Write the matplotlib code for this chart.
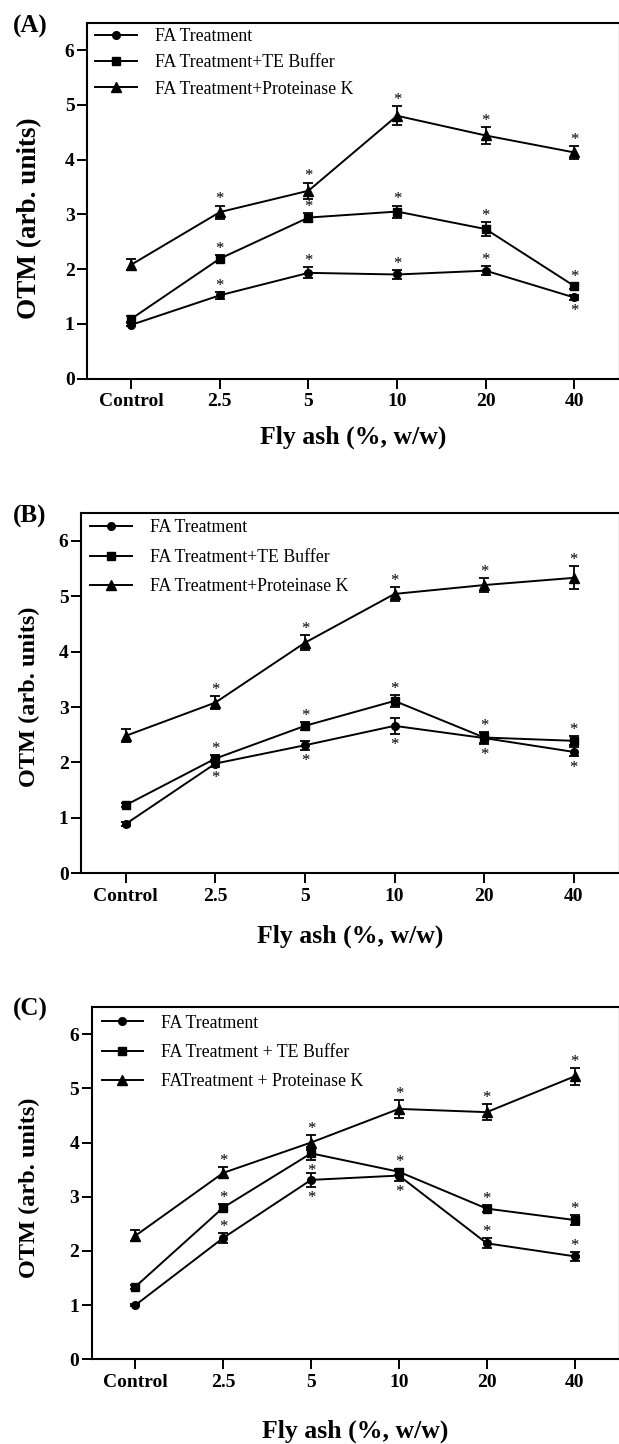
import matplotlib
matplotlib.use('Agg')
import matplotlib.pyplot as plt

plt.rcParams['font.family'] = ['Liberation Serif', 'DejaVu Serif']

# ---------------- data ----------------
categories = ['Control', '2.5', '5', '10', '20', '40']
labels_ab = ['FA Treatment', 'FA Treatment+TE Buffer', 'FA Treatment+Proteinase K']
labels_c = ['FA Treatment', 'FA Treatment + TE Buffer', 'FATreatment + Proteinase K']
panel_names = ['(A)', '(B)', '(C)']
y_ticks = [0, 1, 2, 3, 4, 5, 6]

# Panel A
a_fa = [0.98, 1.52, 1.93, 1.90, 1.97, 1.48]
a_fa_err = [0.03, 0.06, 0.10, 0.08, 0.08, 0.04]
a_te = [1.09, 2.19, 2.94, 3.05, 2.73, 1.69]
a_te_err = [0.05, 0.06, 0.09, 0.11, 0.12, 0.06]
a_pk = [2.08, 3.04, 3.43, 4.80, 4.44, 4.13]
a_pk_err = [0.10, 0.12, 0.15, 0.17, 0.15, 0.12]
a_fa_star = ['', 'a', 'a', 'a', 'a', 'b']
a_te_star = ['', 'a', 'a', 'a', 'a', 'a']
a_pk_star = ['', 'a', 'a', 'a', 'a', 'a']

# Panel B
b_fa = [0.89, 1.98, 2.31, 2.66, 2.44, 2.19]
b_fa_err = [0.03, 0.06, 0.08, 0.14, 0.10, 0.08]
b_te = [1.23, 2.07, 2.66, 3.11, 2.45, 2.39]
b_te_err = [0.03, 0.06, 0.07, 0.11, 0.10, 0.08]
b_pk = [2.48, 3.08, 4.16, 5.04, 5.20, 5.33]
b_pk_err = [0.12, 0.12, 0.14, 0.13, 0.12, 0.21]
b_fa_star = ['', 'b', 'b', 'b', 'b', 'b']
b_te_star = ['', 'a', 'a', 'a', 'a', 'a']
b_pk_star = ['', 'a', 'a', 'a', 'a', 'a']

# Panel C
c_fa = [1.00, 2.24, 3.31, 3.39, 2.14, 1.90]
c_fa_err = [0.02, 0.09, 0.13, 0.10, 0.09, 0.08]
c_te = [1.34, 2.80, 3.80, 3.46, 2.78, 2.57]
c_te_err = [0.04, 0.07, 0.12, 0.06, 0.06, 0.10]
c_pk = [2.28, 3.44, 4.00, 4.62, 4.56, 5.22]
c_pk_err = [0.10, 0.10, 0.13, 0.17, 0.15, 0.16]
c_fa_star = ['', 'a', 'b', 'b', 'a', 'a']
c_te_star = ['', 'a', 'b', 'a', 'a', 'a']
c_pk_star = ['', 'a', 'a', 'a', 'a', 'a']

panels = [
    dict(vals=[a_fa, a_te, a_pk], errs=[a_fa_err, a_te_err, a_pk_err],
         stars=[a_fa_star, a_te_star, a_pk_star], labels=labels_ab),
    dict(vals=[b_fa, b_te, b_pk], errs=[b_fa_err, b_te_err, b_pk_err],
         stars=[b_fa_star, b_te_star, b_pk_star], labels=labels_ab),
    dict(vals=[c_fa, c_te, c_pk], errs=[c_fa_err, c_te_err, c_pk_err],
         stars=[c_fa_star, c_te_star, c_pk_star], labels=labels_c),
]

# ---------------- layout (pixels in a 619x1444 canvas) ----------------
W, H = 619, 1444
boxes = [(87, 22.7, 378.5, 618.5), (81, 513, 873.3, 618.5), (91.5, 1007, 1359.3, 618.5)]
panel_label_pos = [(30, 26), (30, 516), (30, 1009)]
ylabel_x = [29.6, 29.6, 29.6]
ylabel_yfrac = [0.45, 0.49, 0.488]
ylabel_size = [19.5, 17.5, 17.5]
xlabel_y = [437, 936.7, 1431.7]
legend_spacing = [0.52, 0.7, 0.7]
legend_offset = [(8, 5.5), (9, 6.5), (10, 7.5)]

markers = ['o', 's', '^']
msizes = [5.5, 6.3, 6.5]

fig = plt.figure(figsize=(W / 100, H / 100), dpi=100)

for i, p in enumerate(panels):
    l, t, b, r = boxes[i]
    ax = fig.add_axes([l / W, 1 - b / H, (r - l) / W, (b - t) / H])
    x = list(range(len(categories)))
    handles = []
    for k in range(3):
        cont = ax.errorbar(x, p['vals'][k], yerr=p['errs'][k], color='black',
                           marker=markers[k], markersize=msizes[k], lw=1.4,
                           elinewidth=1.3, capsize=3.3, capthick=1.3, zorder=3)
        handles.append(cont[0])
        for j, s in enumerate(p['stars'][k]):
            if s == 'a':
                ax.annotate('*', (x[j], p['vals'][k][j] + p['errs'][k][j]),
                            xytext=(0, 1.5), textcoords='offset points',
                            ha='center', va='baseline', fontsize=12)
            elif s == 'b':
                ax.annotate('*', (x[j], p['vals'][k][j] - p['errs'][k][j]),
                            xytext=(0, -11.0), textcoords='offset points',
                            ha='center', va='baseline', fontsize=12)
    ax.set_xlim(-0.5, 5.5)
    ax.set_ylim(0, 6.5)
    ax.set_xticks(x)
    ax.set_xticklabels(categories)
    ax.set_yticks(y_ticks)
    for lab in ax.get_xticklabels() + ax.get_yticklabels():
        lab.set_fontweight('bold')
        lab.set_fontsize(14)
    ax.tick_params(axis='both', direction='out', length=7, width=1.4)
    ax.tick_params(axis='x', pad=3.5)
    ax.tick_params(axis='y', pad=2)
    for sp in ['left', 'bottom', 'top']:
        ax.spines[sp].set_linewidth(1.5)
    ax.spines['right'].set_linewidth(1.0)
    ax.spines['right'].set_color('#aaaaaa')

    ax.set_ylabel('OTM (arb. units)', fontsize=ylabel_size[i], fontweight='bold')
    ax.yaxis.set_label_coords((ylabel_x[i] - l) / (r - l), ylabel_yfrac[i])
    ax.yaxis.label.set_va('center')
    ax.set_xlabel('Fly ash (%, w/w)', fontsize=18.5, fontweight='bold')
    ax.xaxis.set_label_coords(0.5, -(xlabel_y[i] - b) / (b - t))
    ax.xaxis.label.set_va('center')

    dx, dy = legend_offset[i]
    ax.legend(handles, p['labels'], loc='upper left',
              bbox_to_anchor=(dx / (r - l), 1 - dy / (b - t)),
              frameon=False, fontsize=12.8, borderaxespad=0, borderpad=0,
              handlelength=2.35, handletextpad=1.0, labelspacing=legend_spacing[i],
              numpoints=1)

    px, py = panel_label_pos[i]
    fig.text(px / W, 1 - py / H, panel_names[i], fontsize=18, fontweight='bold',
             ha='center', va='center')

fig.savefig('out.png', dpi=100)
